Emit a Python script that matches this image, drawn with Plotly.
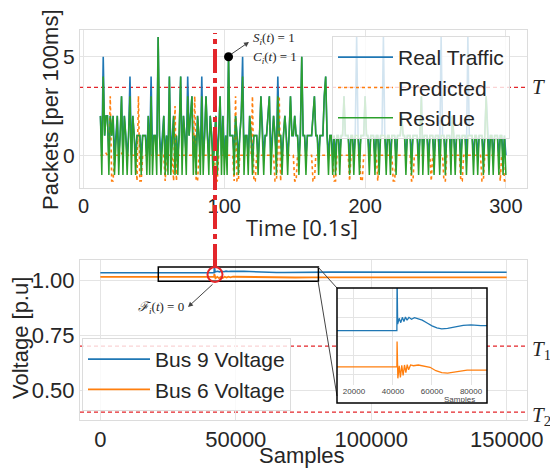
import plotly.graph_objects as go

W, H = 550, 468
def px(x): return x / W
def py(y): return 1 - y / H

# ---------------- data ----------------
real_traffic = [
2,0,5,1,2,2,0,2,1,2,
0,1,2,0,1,3,0,2,1,0,
1,4,0,2,1,0,1,1,1,0,
1,1,1,0,2,0,4,0,1,1,
0,6,1,0,1,2,0,1,0,4,
0,1,2,0,1,0,1,4,0,2,
1,0,4,1,2,3,0,1,0,2,
1,0,4,0,1,3,1,0,2,1,
0,1,2,0,1,3,0,2,0,1,
0,5,1,1,1,0,2,1,0,1,
2,5,0,1,1,0,2,1,0,1,
1,1,0,1,3,1,0,1,1,2,
3,0,1,2,1,0,4,1,1,0,
1,2,1,0,1,3,1,1,2,1,
1,0,1,5,1,1,0,1,1,1,
1,2,3,1,1,0,1,1,1,3,
4,1,0,1,1,0,1,0,1,1,
0,1,1,3,1,1,1,0,1,1,
0,1,6,1,0,1,1,1,3,1,
1,0,1,1,1,0,1,1,0,1,
1,6,1,0,1,1,0,1,1,1,
0,1,1,1,2,1,1,0,1,1,
1,0,1,1,1,1,0,1,3,0,
1,1,1,0,1,1,1,0,1,1,
1,0,6,1,1,0,1,1,1,0,
2,1,0,1,1,1,0,1,1,1,
0,6,1,1,1,0,1,1,0,1,
1,1,0,1,3,1,0,1,1,0,
1,1,1,0,1,1,0,1,0,
]

predicted = [
0,0,0,0,0.1,0,-0.1,3,-1.3,-1.3,
0,0,0,0,0,0.1,0,0,0,0,
0,0,0,0,0,0,-1.3,3,-1.3,-1.3,
0,0,0,0,0,0,0,0,0,0,
0,0,0,0,0,0,-1.3,0,0,0,
0,0,-1.3,2.5,-1.3,0,0,0,0,0,
0,0,0,0,0,0,0,3,-1.3,-1.3,
0,0,0,0,0,0,0,0,0,0,
0,0,-1.3,-1.3,0,0,0,0,0,0,
0,0,0,0,0,-1.3,3,-1.3,-1.3,0,
0,0,0,0,0,0,0,0,3,-1.3,
-1.3,0,0,0,0,0,0,0,0,0,
0,0,0,0,-1.3,-1.3,0,3,-1.3,0,
0,0,0,0,0,0,0,0,-1.3,-1.3,
0,0,0,0,0,0,0,0,0,0,
0,-1.3,-1.3,0,0,0,0,0,0,0,
0,0,0,0,0,0,-1.3,-1.3,0,0,
0,0,0,0,0,0,0,-1.3,0,0,
0,0,0,0,0,-1.3,-1.3,0,0,0,
0,0,0,0,0,0,0,-1.3,0,0,
0,0,0,0,0,0,0,0,-1.3,-1.3,
0,0,0,0,0,0,0,0,0,0,
0,-1.3,-1.3,0,0,0,0,0,0,0,
0,0,0,0,0,-1.3,0,0,0,0,
0,0,0,0,-1.3,-1.3,0,0,0,0,
0,0,0,0,0,0,-1.3,-1.3,0,0,
0,0,0,0,0,0,0,0,0,0,
0,-1.3,-1.3,0,0,0,0,0,0,0,
0,0,0,0,-1.3,0,0,-1.3,-1.3,
]

residue = [
2,-1,4,1,2,2,-1,2,1,2,
-1,1,2,-1,1,3,-1,2,1,-1,
1,3,-1,2,1,-1,1,1,1,-1,
1,1,1,-1,2,-1,3,-1,1,1,
-1,6,1,-1,1,2,-1,1,-1,4,
-1,1,2,-1,1,-1,1,4,-1,2,
1,-1,3,1,2,3,-1,1,-1,2,
1,-1,3,-1,1,3,1,-1,2,1,
-1,1,2,-1,1,3,-1,2,-1,1,
-1,5,1,1,1,-1,2,1,-1,1,
2,4,-1,1,1,-1,2,1,-1,1,
1,1,-1,1,3,1,-1,1,1,2,
3,-1,1,2,1,-1,3,1,1,-1,
1,2,1,-1,1,3,1,1,2,1,
1,-1,1,5,1,1,-1,1,1,1,
1,2,3,1,1,-1,1,1,1,3,
4,1,-1,1,1,-1,1,-1,1,1,
-1,1,1,3,1,1,1,-1,1,1,
-1,1,1,1,-1,1,1,1,3,1,
1,-1,1,1,1,-1,1,1,-1,1,
1,1,1,-1,1,1,-1,1,1,1,
-1,1,1,1,2,1,1,-1,1,1,
1,-1,1,1,1,1,-1,1,3,-1,
1,1,1,-1,1,1,1,-1,1,1,
1,-1,1,1,1,-1,1,1,1,-1,
2,1,-1,1,1,1,-1,1,1,1,
-1,1,1,1,1,-1,1,1,-1,1,
1,1,-1,1,3,1,-1,1,1,-1,
1,1,1,-1,1,1,-1,1,-1,
]
time_start = 12
time = list(range(time_start, time_start + len(real_traffic)))

event_time = [103]
event_value = [5]

T_level = 3.45
T1_level = 0.70
T2_level = 0.40

bus9_samples = [0, 42000, 42100, 42400, 43200, 44000, 44800, 45600, 46400, 47200, 48200, 49500,
                51000, 53000, 55000, 57500, 60000, 62500, 65000, 68000, 72000, 76000, 80000, 85000, 150000]
bus9_voltage = [1.033, 1.033, 1.062, 1.0365, 1.0395, 1.0372, 1.0400, 1.0378, 1.0402, 1.0385, 1.0400, 1.0390,
                1.0398, 1.0392, 1.0385, 1.0370, 1.0355, 1.0345, 1.0340, 1.0342, 1.0352, 1.0358, 1.0360, 1.0357, 1.0355]
bus6_samples = [0, 42000, 42100, 42500, 43200, 43800, 44500, 45200, 45900, 46600, 47300, 48000,
                49000, 50500, 53000, 56000, 59000, 62000, 65000, 68000, 72000, 78000, 85000, 150000]
bus6_voltage = [1.014, 1.014, 1.0273, 1.0080, 1.0145, 1.0085, 1.0148, 1.0095, 1.0150, 1.0110, 1.0152, 1.0125,
                1.0150, 1.0146, 1.0150, 1.0142, 1.0138, 1.0120, 1.0110, 1.0107, 1.0115, 1.0123, 1.0123, 1.0122]

top_xticks = [0, 100, 200, 300]
top_yticks = [0, 5]
bot_xticks = [0, 50000, 100000, 150000]
bot_xticklabels = ["0", "50000", "100000", "150000"]
bot_yticks = [0.50, 0.75, 1.00]
bot_yticklabels = ["0.50", "0.75", "1.00"]
inset_xticks = [20000, 40000, 60000, 80000]
inset_xticklabels = ["20000", "40000", "60000", "80000"]
inset_yticks = [1.00, 1.01, 1.02, 1.03, 1.04, 1.05]

BLUE, ORANGE, GREEN, RED = "#1f77b4", "#ff7f0e", "#2ca02c", "#e3262b"
TXT = "#262626"
GRID = "#e4e4e4"
FRAME = "#dcdcdc"

fig = go.Figure()

# top subplot
fig.add_trace(go.Scatter(x=time, y=real_traffic, mode="lines", name="Real Traffic",
                         line=dict(color=BLUE, width=1.6), xaxis="x", yaxis="y", legend="legend"))
fig.add_trace(go.Scatter(x=time, y=predicted, mode="lines", name="Predicted",
                         line=dict(color=ORANGE, width=1.6, dash="dot"), xaxis="x", yaxis="y", legend="legend"))
fig.add_trace(go.Scatter(x=time, y=residue, mode="lines", name="Residue",
                         line=dict(color=GREEN, width=1.5), xaxis="x", yaxis="y", legend="legend"))
fig.add_trace(go.Scatter(x=event_time, y=event_value, mode="markers", showlegend=False,
                         marker=dict(color="black", size=9), xaxis="x", yaxis="y"))

# bottom subplot
fig.add_trace(go.Scatter(x=bus9_samples, y=bus9_voltage, mode="lines", name="Bus 9 Voltage",
                         line=dict(color=BLUE, width=1.6), xaxis="x2", yaxis="y2", legend="legend2"))
fig.add_trace(go.Scatter(x=bus6_samples, y=bus6_voltage, mode="lines", name="Bus 6 Voltage",
                         line=dict(color=ORANGE, width=1.8), xaxis="x2", yaxis="y2", legend="legend2"))

# white backing under inset tick labels
fig.add_trace(go.Scatter(x=[0], y=[0], mode="markers", marker=dict(opacity=0), showlegend=False,
                         hoverinfo="skip", xaxis="x3", yaxis="y3"))

# inset
fig.add_trace(go.Scatter(x=bus9_samples, y=bus9_voltage, mode="lines", showlegend=False,
                         line=dict(color=BLUE, width=1.3), xaxis="x4", yaxis="y4"))
fig.add_trace(go.Scatter(x=bus6_samples, y=bus6_voltage, mode="lines", showlegend=False,
                         line=dict(color=ORANGE, width=1.3), xaxis="x4", yaxis="y4"))

ax_common = dict(showgrid=True, gridcolor=GRID, gridwidth=1, zeroline=False, showline=True, mirror=True,
                 linecolor=FRAME, linewidth=1, ticks="", tickfont=dict(size=21, color=TXT), automargin=False)

fig.update_layout(
    width=W, height=H, margin=dict(l=0, r=0, t=0, b=0, autoexpand=False),
    paper_bgcolor="white", plot_bgcolor="white",
    font=dict(family="Liberation Sans, Arial, sans-serif", color=TXT),
    xaxis=dict(ax_common, domain=[px(80), px(527)], range=[-2.5, 315], tickvals=top_xticks, anchor="y",
               tickfont=dict(size=20, color=TXT)),
    yaxis=dict(ax_common, domain=[py(188), py(30)], range=[-1.66, 6.36], tickvals=top_yticks, anchor="x"),
    xaxis2=dict(ax_common, domain=[px(80), px(527)], range=[-7500, 157500], tickvals=bot_xticks,
                ticktext=bot_xticklabels, anchor="y2", tickfont=dict(size=22, color=TXT)),
    yaxis2=dict(ax_common, domain=[py(420), py(260)], range=[0.364, 1.091], tickvals=bot_yticks,
                ticktext=bot_yticklabels, anchor="x2", tickfont=dict(size=22, color=TXT)),
    xaxis3=dict(domain=[px(337), px(487)], range=[0, 1], visible=False, anchor="y3", automargin=False),
    yaxis3=dict(domain=[py(403), py(385)], range=[0, 1], visible=False, anchor="x3", automargin=False),
    xaxis4=dict(domain=[px(337), px(487)], range=[11300, 88200], tickvals=inset_xticks,
                ticktext=inset_xticklabels, anchor="y4", automargin=False,
                showgrid=True, gridcolor=GRID, zeroline=False, showline=False, ticks="",
                tickfont=dict(size=8, color="#444")),
    yaxis4=dict(domain=[py(385), py(288)], range=[1.0045, 1.0554], tickvals=inset_yticks, anchor="x4",
                automargin=False, showgrid=True, gridcolor=GRID, zeroline=False, showline=False,
                showticklabels=False, ticks=""),
    legend=dict(x=px(332), y=py(36), xanchor="left", yanchor="top", font=dict(size=21, color=TXT),
                bgcolor="rgba(255,255,255,0.8)", bordercolor=FRAME, borderwidth=1, itemwidth=55),
    legend2=dict(x=px(82), y=py(338), xanchor="left", yanchor="top", font=dict(size=21, color=TXT),
                 bgcolor="rgba(255,255,255,0.8)", bordercolor=FRAME, borderwidth=1, itemwidth=62),
    showlegend=True,
)

shapes = [
    # thresholds
    dict(type="line", xref="paper", yref="y", x0=px(80), x1=px(525), y0=T_level, y1=T_level,
         line=dict(color=RED, width=1.2, dash="4px,3px"), layer="below"),
    dict(type="line", xref="paper", yref="y2", x0=px(80), x1=px(525), y0=T1_level, y1=T1_level,
         line=dict(color=RED, width=1.2, dash="4px,3px"), layer="below"),
    dict(type="line", xref="paper", yref="y2", x0=px(80), x1=px(525), y0=T2_level, y1=T2_level,
         line=dict(color=RED, width=1.2, dash="4px,3px"), layer="below"),
    # zoom rectangle
    dict(type="rect", xref="x2", yref="y2", x0=21400, x1=80500, y0=0.995, y1=1.059,
         line=dict(color="black", width=1.5), layer="above"),
    # connectors
    dict(type="line", xref="paper", yref="paper", x0=px(318), y0=py(267), x1=px(337), y1=py(288),
         line=dict(color="#444", width=1), layer="above"),
    dict(type="line", xref="paper", yref="paper", x0=px(318), y0=py(281), x1=px(337), y1=py(396),
         line=dict(color="#444", width=1), layer="above"),
    # inset frame
    dict(type="rect", xref="paper", yref="paper", x0=px(337), x1=px(487), y0=py(403), y1=py(288),
         line=dict(color="black", width=1.5), layer="above"),
    # red dash-dot vertical
    dict(type="line", xref="paper", yref="paper", x0=px(215), x1=px(215), y0=py(268), y1=py(33),
         line=dict(color=RED, width=4, dash="24px,5px,5px,5px"), layer="above"),
    # red circle
    dict(type="circle", xref="paper", yref="paper", x0=px(207.5), x1=px(222.5), y0=py(282), y1=py(267),
         line=dict(color=RED, width=2), layer="above"),
]
fig.update_layout(shapes=shapes)

serif = "Liberation Serif, DejaVu Serif, serif"
ann = [
    dict(text="Packets [per 100ms]", x=px(50), y=py(110), textangle=-90, font=dict(size=22)),
    dict(text="Time [0.1s]", x=px(302), y=py(227), font=dict(size=22, family="Open Sans, sans-serif")),
    dict(text="Voltage [p.u]", x=px(20), y=py(338), textangle=-90, font=dict(size=22)),
    dict(text="Samples", x=px(302), y=py(455), font=dict(size=22)),
    dict(text="Samples", x=px(460), y=py(399), font=dict(size=8, color="#444")),
    dict(text="<i>T</i>", x=px(538), y=py(87), font=dict(size=21, family=serif)),
    dict(text="<i>T</i><sub>1</sub>", x=px(541), y=py(350), font=dict(size=21, family=serif)),
    dict(text="<i>T</i><sub>2</sub>", x=px(541), y=py(416), font=dict(size=21, family=serif)),
    dict(text="<i>S</i><sub><i>i</i></sub>(<i>t</i>) = 1", x=px(251), y=py(38), xanchor="left",
         font=dict(size=13, family=serif)),
    dict(text="<i>C</i><sub><i>i</i></sub>(<i>t</i>) = 1", x=px(251), y=py(57), xanchor="left",
         font=dict(size=13, family=serif)),
    dict(text="<i>ℱ</i><sub><i>i</i></sub>(<i>t</i>) = 0", x=px(186), y=py(307), xanchor="right",
         font=dict(size=13, family=serif)),
]
annotations = []
for a in ann:
    d = dict(xref="paper", yref="paper", showarrow=False, yanchor="middle")
    d.setdefault("xanchor", "center")
    d.update(a)
    annotations.append(d)
# arrows
annotations.append(dict(xref="paper", yref="paper", x=px(249), y=py(42), ax=-19, ay=13, text="",
                        showarrow=True, arrowhead=2, arrowsize=1, arrowwidth=1, arrowcolor="#444"))
annotations.append(dict(xref="paper", yref="paper", x=px(188), y=py(307), ax=26, ay=-24, text="",
                        showarrow=True, arrowhead=2, arrowsize=1, arrowwidth=1, arrowcolor="#444"))
fig.update_layout(annotations=annotations)

fig.write_html("out.html")
